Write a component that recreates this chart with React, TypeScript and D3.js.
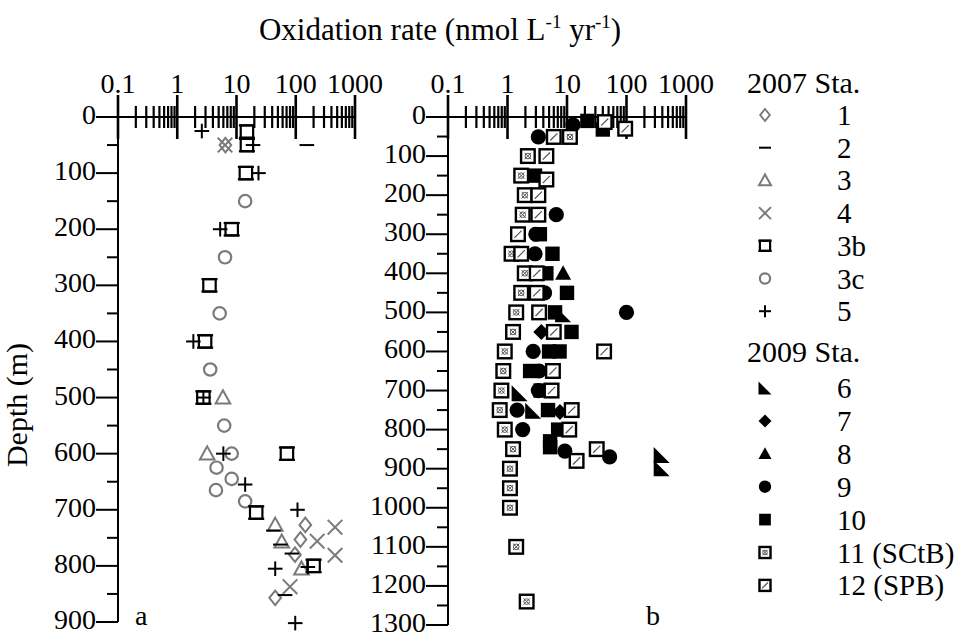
import React from "react";
import * as d3 from "d3";

// ---------- data: [rate (nmol L-1 yr-1), depth (m)] ----------
// Panel a (2007 stations)
const st1: [number, number][] = [[6.5, 50], [145, 727], [120, 753], [97, 780], [45, 857]];
const st2: [number, number][] = [[154, 50], [42, 737], [55, 762], [86, 778], [66, 852]];
const st3: [number, number][] = [[5.9, 500], [3.2, 600], [45, 727], [58, 757], [125, 805]];
const st4: [number, number][] = [[6.4, 50], [460, 731], [230, 756], [460, 781], [80, 837]];
const st3b: [number, number][] = [[15, 26], [15, 50], [14.4, 100], [8.3, 200], [3.5, 300], [2.95, 400], [2.76, 500], [71, 600], [21.5, 705], [200, 800]];
const st3c: [number, number][] = [[14, 150], [6.4, 250], [5.2, 350], [3.6, 450], [6.2, 550], [8.3, 600], [4.6, 625], [8.3, 645], [4.5, 665], [14, 685]];
const st5: [number, number][] = [[2.6, 25], [19, 50], [23.5, 100], [5.3, 200], [1.87, 400], [2.76, 500], [6, 600], [14, 655], [107, 700], [45, 805], [160, 802], [98, 902]];

// Panel b (2009 stations)
const st6: [number, number][] = [[8.6, 505], [1.6, 707], [2.7, 752], [390, 865], [390, 899]];
const st7: [number, number][] = [[3.7, 550], [7.6, 755]];
const st8: [number, number][] = [[8.6, 400]];
const st9: [number, number][] = [[12.6, 20], [3.3, 51], [6.6, 250], [3.0, 300], [2.9, 350], [4.2, 450], [100, 500], [2.7, 600], [3.4, 650], [3.3, 700], [1.45, 750], [1.8, 800], [9.2, 855], [52, 870]];
const st10: [number, number][] = [[22, 10], [40, 32], [2.9, 150], [3.5, 300], [5.7, 350], [4.5, 400], [10, 450], [6.3, 500], [11.9, 550], [5, 600], [7.5, 600], [2.4, 650], [3.6, 700], [4.8, 750], [7.1, 800], [5.2, 830], [5.2, 845]];
const st11: [number, number][] = [[11.2, 51], [2.2, 100], [1.7, 150], [1.95, 200], [1.8, 250], [1.17, 350], [1.95, 400], [1.7, 450], [1.4, 500], [1.24, 550], [0.9, 600], [0.85, 650], [0.79, 700], [0.74, 750], [0.9, 800], [1.24, 850], [1.1, 900], [1.1, 950], [1.1, 1000], [1.4, 1100], [2.1, 1240]];
const st12: [number, number][] = [[43, 13], [95, 30], [6.0, 51], [4.5, 100], [4.5, 160], [3.3, 200], [3.3, 250], [1.5, 300], [1.7, 350], [3.1, 400], [3.1, 450], [3.4, 500], [6.0, 550], [42, 600], [5.8, 650], [5.5, 700], [12, 750], [10.9, 800], [31.6, 850], [14.5, 880]];

const xTickLabels = ["0.1", "1", "10", "100", "1000"];
const legend2007 = [
  { sym: "diamond", label: "1" },
  { sym: "dash", label: "2" },
  { sym: "tri", label: "3" },
  { sym: "cross", label: "4" },
  { sym: "sq3b", label: "3b" },
  { sym: "circle", label: "3c" },
  { sym: "plus", label: "5" },
];
const legend2009 = [
  { sym: "rtri", label: "6" },
  { sym: "fdiamond", label: "7" },
  { sym: "ftri", label: "8" },
  { sym: "fcircle", label: "9" },
  { sym: "fsq", label: "10" },
  { sym: "sq11", label: "11 (SCtB)" },
  { sym: "sq12", label: "12 (SPB)" },
];

const FONT = "'Liberation Serif', 'Times New Roman', serif";
const GRAY = "#7a7a7a";

function Sym({ t, cx, cy, s }: { t: string; cx: number; cy: number; s: number }) {
  switch (t) {
    case "diamond":
      return <polygon points={`${cx},${cy - s} ${cx + s * 0.8},${cy} ${cx},${cy + s} ${cx - s * 0.8},${cy}`} fill="none" stroke={GRAY} strokeWidth={2} />;
    case "dash":
      return <line x1={cx - s} x2={cx + s} y1={cy} y2={cy} stroke="#000" strokeWidth={2} />;
    case "tri":
      return <polygon points={`${cx},${cy - s} ${cx + s},${cy + s * 0.8} ${cx - s},${cy + s * 0.8}`} fill="none" stroke={GRAY} strokeWidth={2} />;
    case "cross":
      return (
        <g stroke={GRAY} strokeWidth={2}>
          <line x1={cx - s} x2={cx + s} y1={cy - s} y2={cy + s} />
          <line x1={cx - s} x2={cx + s} y1={cy + s} y2={cy - s} />
        </g>
      );
    case "sq3b":
      return (
        <g stroke="#000" strokeWidth={2.2} fill="none">
          <rect x={cx - s * 0.85} y={cy - s * 0.85} width={s * 1.7} height={s * 1.7} />
          <line x1={cx - s * 1.1} x2={cx + s * 1.1} y1={cy + s * 0.85} y2={cy + s * 0.85} />
          <line x1={cx - s * 1.1} x2={cx + s * 1.1} y1={cy - s * 0.85} y2={cy - s * 0.85} />
        </g>
      );
    case "circle":
      return <circle cx={cx} cy={cy} r={s * 0.85} fill="none" stroke={GRAY} strokeWidth={2.2} />;
    case "plus":
      return (
        <g stroke="#000" strokeWidth={2}>
          <line x1={cx - s} x2={cx + s} y1={cy} y2={cy} />
          <line x1={cx} x2={cx} y1={cy - s} y2={cy + s} />
        </g>
      );
    case "rtri":
      return <polygon points={`${cx - s},${cy - s} ${cx - s},${cy + s} ${cx + s},${cy + s}`} fill="#000" />;
    case "fdiamond":
      return <polygon points={`${cx},${cy - s} ${cx + s},${cy} ${cx},${cy + s} ${cx - s},${cy}`} fill="#000" />;
    case "ftri":
      return <polygon points={`${cx},${cy - s} ${cx + s},${cy + s * 0.8} ${cx - s},${cy + s * 0.8}`} fill="#000" />;
    case "fcircle":
      return <circle cx={cx} cy={cy} r={s * 0.95} fill="#000" />;
    case "fsq":
      return <rect x={cx - s * 0.9} y={cy - s * 0.9} width={s * 1.8} height={s * 1.8} fill="#000" />;
    case "sq11":
      return (
        <g stroke="#000" fill="#fff">
          <rect x={cx - s * 0.85} y={cy - s * 0.85} width={s * 1.7} height={s * 1.7} strokeWidth={2.4} />
          <line x1={cx - s * 0.4} x2={cx + s * 0.4} y1={cy - s * 0.4} y2={cy + s * 0.4} strokeWidth={1} stroke="#555" />
          <line x1={cx - s * 0.4} x2={cx + s * 0.4} y1={cy + s * 0.4} y2={cy - s * 0.4} strokeWidth={1} stroke="#555" />
          <circle cx={cx} cy={cy} r={s * 0.35} fill="none" strokeWidth={1} stroke="#555" />
        </g>
      );
    case "sq12":
      return (
        <g stroke="#000" fill="#fff">
          <rect x={cx - s * 0.85} y={cy - s * 0.85} width={s * 1.7} height={s * 1.7} strokeWidth={2.4} />
          <line x1={cx - s * 0.45} x2={cx + s * 0.45} y1={cy + s * 0.45} y2={cy - s * 0.45} strokeWidth={1.2} stroke="#555" />
        </g>
      );
  }
  return null;
}

function Panel({ x0, x1, y0, y1, maxDepth, letter }: { x0: number; x1: number; y0: number; y1: number; maxDepth: number; letter: string }) {
  const x = d3.scaleLog().domain([0.1, 1000]).range([x0, x1]);
  const y = d3.scaleLinear().domain([0, maxDepth]).range([y0, y1]);
  const xt = x.ticks();
  const majors = d3.range(0, maxDepth + 1, 100);
  const minors = d3.range(50, maxDepth, 100);
  return (
    <g>
      <line x1={x0} x2={x1} y1={y0} y2={y0} stroke="#000" strokeWidth={2} />
      {xt.map((v, i) => {
        const maj = Math.abs(Math.log10(v) - Math.round(Math.log10(v))) < 1e-9;
        const L = maj ? 22 : 11;
        return <line key={i} x1={x(v)} x2={x(v)} y1={y0 - L} y2={y0 + L} stroke="#000" strokeWidth={maj ? 2.6 : 2.2} />;
      })}
      {xTickLabels.map((t) => (
        <text key={t} x={x(+t)} y={93} textAnchor="middle" fontSize={28} fontFamily={FONT}>{t}</text>
      ))}
      <line x1={x0} x2={x0} y1={y0} y2={y1} stroke="#000" strokeWidth={2} />
      {majors.map((d) => (
        <g key={d}>
          <line x1={x0 - 22} x2={x0} y1={y(d)} y2={y(d)} stroke="#000" strokeWidth={2} />
          <text x={x0 - 22} y={y(d) + 7} textAnchor="end" fontSize={28} fontFamily={FONT}>{d}</text>
        </g>
      ))}
      {minors.map((d) => (
        <line key={d} x1={x0 - 11} x2={x0} y1={y(d)} y2={y(d)} stroke="#000" strokeWidth={2} />
      ))}
      <text x={letter === "a" ? x0 + 17 : x0 + 198} y={625} fontSize={28} fontFamily={FONT}>{letter}</text>
    </g>
  );
}

export default function App() {
  const xa = d3.scaleLog().domain([0.1, 1000]).range([118, 355]);
  const ya = d3.scaleLinear().domain([0, 900]).range([117, 622]);
  const xb = d3.scaleLog().domain([0.1, 1000]).range([448, 686]);
  const yb = d3.scaleLinear().domain([0, 1300]).range([117, 625]);

  const seriesA: [string, [number, number][]][] = [
    ["circle", st3c], ["diamond", st1], ["tri", st3], ["cross", st4], ["sq3b", st3b], ["dash", st2], ["plus", st5],
  ];
  const seriesB: [string, [number, number][]][] = [
    ["fsq", st10], ["fcircle", st9], ["rtri", st6], ["fdiamond", st7], ["ftri", st8], ["sq11", st11], ["sq12", st12],
  ];

  return (
    <svg width={966} height={641} style={{ position: "absolute", left: 0, top: 0, background: "#fff" }}>
      <rect width={966} height={641} fill="#fff" />
      <text x={440} y={40} textAnchor="middle" fontSize={31} fontFamily={FONT}>
        Oxidation rate (nmol L<tspan dy={-12} fontSize={19}>-1</tspan>
        <tspan dy={12}> yr</tspan>
        <tspan dy={-12} fontSize={19}>-1</tspan>
        <tspan dy={12}>)</tspan>
      </text>
      <text transform="translate(27,405) rotate(-90)" textAnchor="middle" fontSize={30} fontFamily={FONT}>Depth (m)</text>

      <Panel x0={118} x1={355} y0={117} y1={622} maxDepth={900} letter="a" />
      <Panel x0={448} x1={686} y0={117} y1={625} maxDepth={1300} letter="b" />

      {seriesA.map(([t, data]) => (
        <g key={t}>
          {data.map(([v, d], i) => (
            <Sym key={i} t={t} cx={xa(v)} cy={ya(d)} s={7.3} />
          ))}
        </g>
      ))}
      {seriesB.map(([t, data]) => (
        <g key={t}>
          {data.map(([v, d], i) => (
            <Sym key={i} t={t} cx={xb(v)} cy={yb(d)} s={8} />
          ))}
        </g>
      ))}

      <text x={747} y={93} fontSize={30} fontFamily={FONT}>2007 Sta.</text>
      {legend2007.map((e, i) => (
        <g key={e.label}>
          <Sym t={e.sym} cx={765} cy={115 + i * 32.7} s={6} />
          <text x={837} y={115 + i * 32.7 + 10} fontSize={29} fontFamily={FONT}>{e.label}</text>
        </g>
      ))}
      <text x={747} y={362} fontSize={30} fontFamily={FONT}>2009 Sta.</text>
      {legend2009.map((e, i) => (
        <g key={e.label}>
          <Sym t={e.sym} cx={765} cy={388 + i * 32.9} s={6.5} />
          <text x={837} y={388 + i * 32.9 + 10} fontSize={29} fontFamily={FONT}>{e.label}</text>
        </g>
      ))}
    </svg>
  );
}
